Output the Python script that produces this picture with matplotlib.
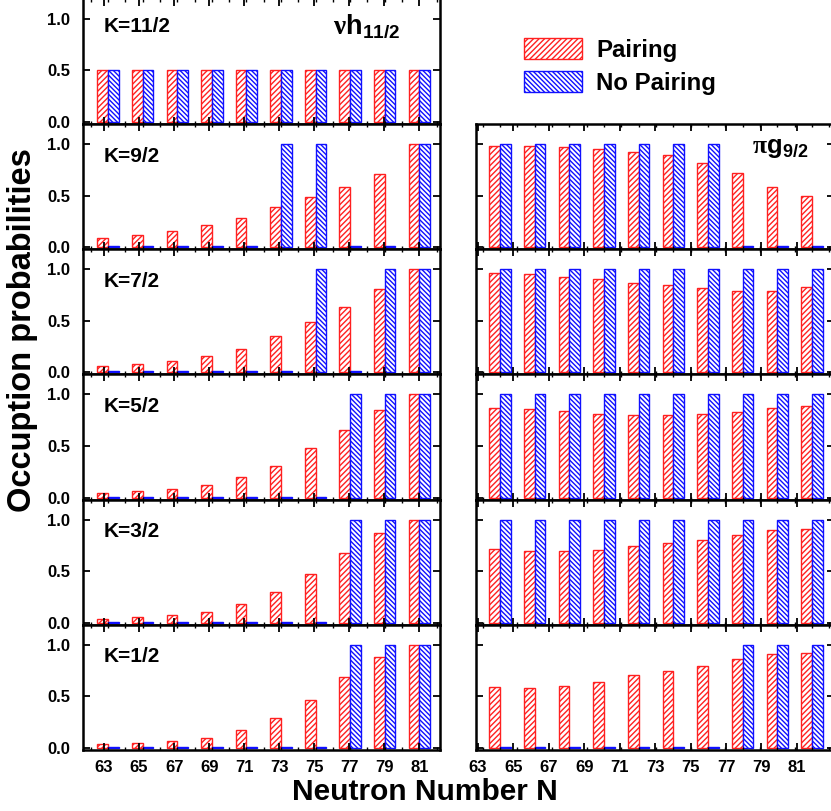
import numpy as np
import matplotlib
matplotlib.use("Agg")
import matplotlib.pyplot as plt
from matplotlib.ticker import MultipleLocator

plt.rcParams['font.family'] = ['Liberation Sans', 'DejaVu Sans']
plt.rcParams['font.weight'] = 'bold'
plt.rcParams['mathtext.fontset'] = 'custom'
plt.rcParams['mathtext.rm'] = 'Liberation Serif'
plt.rcParams['mathtext.bf'] = 'Liberation Sans:bold'
plt.rcParams['hatch.linewidth'] = 1.0

# neutron numbers
N = [63, 65, 67, 69, 71, 73, 75, 77, 79, 81]
tick_labels = ['63', '65', '67', '69', '71', '73', '75', '77', '79', '81']

# nu h11/2, left column (top to bottom)
k_left = ['K=11/2', 'K=9/2', 'K=7/2', 'K=5/2', 'K=3/2', 'K=1/2']
nu_pair = [
    [0.5, 0.5, 0.5, 0.5, 0.5, 0.5, 0.5, 0.5, 0.5, 0.5],
    [0.09, 0.12, 0.16, 0.21, 0.28, 0.39, 0.49, 0.58, 0.71, 1.0],
    [0.06, 0.08, 0.11, 0.155, 0.23, 0.35, 0.49, 0.63, 0.81, 1.0],
    [0.04, 0.06, 0.08, 0.12, 0.195, 0.31, 0.48, 0.66, 0.85, 1.0],
    [0.04, 0.055, 0.075, 0.10, 0.18, 0.30, 0.47, 0.68, 0.87, 1.0],
    [0.035, 0.045, 0.065, 0.10, 0.17, 0.29, 0.47, 0.69, 0.88, 1.0],
]
nu_nopair = [
    [0.5, 0.5, 0.5, 0.5, 0.5, 0.5, 0.5, 0.5, 0.5, 0.5],
    [0.01, 0.01, 0.01, 0.01, 0.01, 1.0, 1.0, 0.01, 0.01, 1.0],
    [0.01, 0.01, 0.01, 0.01, 0.01, 0.01, 1.0, 0.01, 1.0, 1.0],
    [0.01, 0.01, 0.01, 0.01, 0.01, 0.01, 0.01, 1.0, 1.0, 1.0],
    [0.01, 0.01, 0.01, 0.01, 0.01, 0.01, 0.01, 1.0, 1.0, 1.0],
    [0.01, 0.01, 0.01, 0.01, 0.01, 0.01, 0.01, 1.0, 1.0, 1.0],
]

# pi g9/2, right column (K=9/2 .. K=1/2)
pi_pair = [
    [0.98, 0.98, 0.97, 0.95, 0.92, 0.89, 0.82, 0.72, 0.58, 0.495],
    [0.96, 0.95, 0.93, 0.905, 0.87, 0.845, 0.815, 0.79, 0.79, 0.83],
    [0.87, 0.86, 0.835, 0.815, 0.80, 0.80, 0.81, 0.83, 0.87, 0.89],
    [0.72, 0.70, 0.70, 0.71, 0.74, 0.77, 0.80, 0.85, 0.90, 0.91],
    [0.595, 0.58, 0.60, 0.64, 0.705, 0.75, 0.795, 0.86, 0.91, 0.92],
]
pi_nopair = [
    [1.0, 1.0, 1.0, 1.0, 1.0, 1.0, 1.0, 0.01, 0.01, 0.01],
    [1.0, 1.0, 1.0, 1.0, 1.0, 1.0, 1.0, 1.0, 1.0, 1.0],
    [1.0, 1.0, 1.0, 1.0, 1.0, 1.0, 1.0, 1.0, 1.0, 1.0],
    [1.0, 1.0, 1.0, 1.0, 1.0, 1.0, 1.0, 1.0, 1.0, 1.0],
    [0.01, 0.01, 0.01, 0.01, 0.01, 0.01, 0.01, 1.0, 1.0, 1.0],
]

W, H = 831, 811
fig = plt.figure(figsize=(W / 100, H / 100), dpi=100)

x = np.array(N, dtype=float)
bw = 0.62
row_h = 125.2
bottom_px = 750


def draw_panel(ax, pair, nopair, xlim, ticks, show_x, show_y):
    bp = ax.bar(x - bw / 2, pair, width=bw, facecolor='white', edgecolor='#ff2020',
                hatch='//////', linewidth=1.0, label='Pairing')
    bn = ax.bar(x + bw / 2, nopair, width=bw, facecolor='white', edgecolor='#1010ff',
                hatch='\\\\\\\\\\\\\\', linewidth=1.0, label='No Pairing')
    ax.set_xlim(*xlim)
    ax.set_ylim(-0.02, 1.195)
    ax.set_yticks([0.0, 0.5, 1.0])
    ax.set_xticks(ticks)
    ax.xaxis.set_minor_locator(MultipleLocator(1))
    ax.tick_params(axis='both', which='major', direction='in', top=True, right=True,
                   length=5, width=1.3, labelsize=12, pad=9)
    ax.tick_params(axis='x', which='minor', direction='in', top=True, length=2.5, width=1)
    if show_y:
        ax.set_yticklabels(['0.0', '0.5', '1.0'], fontweight='bold')
    else:
        ax.set_yticklabels([])
    if show_x:
        ax.set_xticklabels(tick_labels, fontweight='bold')
        ax.tick_params(axis='x', pad=7)
    else:
        ax.set_xticklabels([])
    for s in ax.spines.values():
        s.set_linewidth(1.8)
    return bp, bn


# left column: nu h11/2
left_xlim = (61.55, 82.2)
left_ticks = np.linspace(62.77, 81.0, 10)
for i in range(6):
    b = bottom_px - (5 - i) * row_h
    ax = fig.add_axes([83 / W, 1 - b / H, 357 / W, row_h / H])
    bp, bn = draw_panel(ax, nu_pair[i], nu_nopair[i], left_xlim, left_ticks, i == 5, True)
    ax.text(0.057, 0.87 if i == 0 else 0.83, k_left[i], transform=ax.get_yaxis_transform(),
            fontsize=15, fontweight='bold', ha='left', va='baseline')

fig.text(333 / W, 1 - 33 / H, r'$\mathrm{\nu}\mathbf{h}_{\mathbf{11/2}}$', fontsize=19.5,
         ha='left', va='baseline')

# right column: pi g9/2
right_xlim = (61.615, 82.27)
right_ticks = np.linspace(61.73, 80.13, 10)
for i in range(5):
    b = bottom_px - (4 - i) * row_h
    ax = fig.add_axes([476 / W, 1 - b / H, 358 / W, row_h / H])
    draw_panel(ax, pi_pair[i], pi_nopair[i], right_xlim, right_ticks, i == 4, False)

fig.text(752 / W, 1 - 153 / H, r'$\mathrm{\pi}\mathbf{g}_{\mathbf{9/2}}$', fontsize=18.5,
         ha='left', va='baseline')

fig.legend(handles=[bp, bn], labels=['Pairing', 'No Pairing'], loc='upper left',
           bbox_to_anchor=(524 / W, 1 - 38 / H), frameon=False, borderaxespad=0,
           handlelength=2.4, handleheight=0.97, handletextpad=0.6, labelspacing=0.4,
           borderpad=0, prop={'weight': 'bold', 'size': 17.3})

fig.text(23 / W, 1 - 330 / H, 'Occuption probabilities', rotation=90, fontsize=23.5,
         fontweight='bold', ha='center', va='center')
fig.text(425 / W, 1 - 792 / H, 'Neutron Number N', fontsize=21.5, fontweight='bold',
         ha='center', va='center')

fig.savefig('out.png', dpi=100)
